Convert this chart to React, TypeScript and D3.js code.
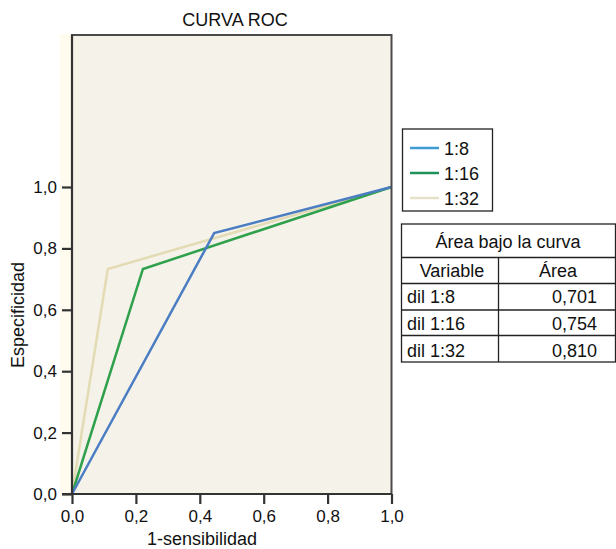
import React, { useEffect, useRef } from "react";
import * as d3 from "d3";

// ROC points (1-sensibilidad, especificidad)
const fpr18 = [0, 0.445, 1];
const tpr18 = [0, 0.85, 1];
const fpr116 = [0, 0.222, 1];
const tpr116 = [0, 0.733, 1];
const fpr132 = [0, 0.112, 1];
const tpr132 = [0, 0.733, 1];

const seriesNames = ["1:8", "1:16", "1:32"];
const lineColors = ["#4a7dc2", "#2fa04c", "#e3dbb4"];
const legendColors = ["#3d9dd2", "#1f9058", "#e7e0c9"];

const ticks = [0, 0.2, 0.4, 0.6, 0.8, 1.0];

const tableVars = ["dil 1:8", "dil 1:16", "dil 1:32"];
const tableAreas = ["0,701", "0,754", "0,810"];

const FONT = "'Liberation Sans', Arial, Helvetica, sans-serif";

export default function App() {
  const svgRef = useRef<SVGSVGElement | null>(null);

  useEffect(() => {
    const W = 616;
    const H = 549;
    const svg = d3.select(svgRef.current).attr("width", W).attr("height", H);
    svg.selectAll("*").remove();

    const left = 72;
    const right = 391.5;
    const bottom = 494;
    const top = 35;

    const x = d3.scaleLinear().domain([0, 1]).range([left, right]);
    const y = d3.scaleLinear().domain([0, 1]).range([bottom, 187]);

    // cream strip + plot background
    svg.append("rect").attr("x", 60).attr("y", top - 1).attr("width", left - 60)
      .attr("height", bottom - top + 4).attr("fill", "#fffcef");
    svg.append("rect").attr("x", left).attr("y", top).attr("width", right - left)
      .attr("height", bottom - top).attr("fill", "#f5f2ea");

    // title
    svg.append("text").attr("x", 235).attr("y", 26).attr("text-anchor", "middle")
      .attr("font-family", FONT).attr("font-size", 18).attr("fill", "#111")
      .text("CURVA ROC");

    // lines
    const line = d3.line<[number, number]>().x((d) => x(d[0])).y((d) => y(d[1]));
    const series: [number[], number[]][] = [
      [fpr132, tpr132],
      [fpr116, tpr116],
      [fpr18, tpr18],
    ];
    const order = [2, 1, 0];
    series.forEach((s, i) => {
      const pts = s[0].map((v, j) => [v, s[1][j]] as [number, number]);
      svg.append("path").attr("d", line(pts)).attr("fill", "none")
        .attr("stroke", lineColors[order[i]]).attr("stroke-width", 2.5)
        .attr("stroke-linejoin", "miter");
    });

    // frame: top and right
    svg.append("path")
      .attr("d", `M${left},${bottom}V${top}H${right}V${bottom}`)
      .attr("fill", "none").attr("stroke", "#4a4a4a").attr("stroke-width", 2);

    // axes
    const xAxis = svg.append("g").attr("transform", `translate(0,${bottom})`)
      .call(d3.axisBottom(x).tickValues(ticks).tickSize(10).tickPadding(6)
        .tickFormat((d) => d3.format(".1f")(d as number).replace(".", ",")));
    const yAxis = svg.append("g").attr("transform", `translate(${left},0)`)
      .call(d3.axisLeft(y).tickValues(ticks).tickSize(10).tickPadding(5)
        .tickFormat((d) => d3.format(".1f")(d as number).replace(".", ",")));
    [xAxis, yAxis].forEach((g) => {
      g.select(".domain").attr("stroke", "#333").attr("stroke-width", 2.2);
      g.selectAll(".tick line").attr("stroke", "#333").attr("stroke-width", 2.2);
      g.selectAll(".tick text").attr("font-family", FONT).attr("font-size", 17)
        .attr("fill", "#111");
    });
    // x-axis extends slightly past the left
    xAxis.select(".domain").attr("d", `M${left - 10},0H${right}`);
    yAxis.select(".domain").attr("d", `M0,${bottom}V${top}`);

    svg.append("text").attr("x", 202).attr("y", 545).attr("text-anchor", "middle")
      .attr("font-family", FONT).attr("font-size", 18).attr("fill", "#111")
      .text("1-sensibilidad");
    svg.append("text").attr("transform", `translate(24,315) rotate(-90)`)
      .attr("text-anchor", "middle").attr("font-family", FONT).attr("font-size", 18)
      .attr("fill", "#111").text("Especificidad");

    // legend
    const lg = svg.append("g");
    lg.append("rect").attr("x", 402.5).attr("y", 129).attr("width", 90).attr("height", 82)
      .attr("fill", "#fff").attr("stroke", "#222").attr("stroke-width", 1.3);
    seriesNames.forEach((n, i) => {
      const cy = 148 + i * 25;
      lg.append("line").attr("x1", 410).attr("x2", 439).attr("y1", cy).attr("y2", cy)
        .attr("stroke", legendColors[i]).attr("stroke-width", 2.5);
      lg.append("text").attr("x", 444).attr("y", cy + 6.5).attr("font-family", FONT)
        .attr("font-size", 18).attr("fill", "#111").text(n);
    });

    // AUC table
    const tb = svg.append("g").attr("font-family", FONT).attr("font-size", 18).attr("fill", "#111");
    const tl = 401.5;
    const tr = 615.5;
    const colX = 498.5;
    const rowLines = [224, 257.5, 283.5, 310, 335.5, 362];
    tb.append("rect").attr("x", tl).attr("y", rowLines[0]).attr("width", tr - tl)
      .attr("height", rowLines[5] - rowLines[0]).attr("fill", "#fff")
      .attr("stroke", "#222").attr("stroke-width", 1.3);
    rowLines.slice(1, 5).forEach((ry) => {
      tb.append("line").attr("x1", tl).attr("x2", tr).attr("y1", ry).attr("y2", ry)
        .attr("stroke", "#222").attr("stroke-width", 1.3);
    });
    tb.append("line").attr("x1", colX).attr("x2", colX).attr("y1", rowLines[1])
      .attr("y2", rowLines[5]).attr("stroke", "#222").attr("stroke-width", 1.3);
    tb.append("text").attr("x", 508).attr("y", 248).attr("text-anchor", "middle")
      .text("Área bajo la curva");
    tb.append("text").attr("x", 452).attr("y", 276.5).attr("text-anchor", "middle")
      .text("Variable");
    tb.append("text").attr("x", 558).attr("y", 276.5).attr("text-anchor", "middle")
      .text("Área");
    tableVars.forEach((v, i) => {
      const by = 303 + i * 27;
      tb.append("text").attr("x", 407).attr("y", by).text(v);
      tb.append("text").attr("x", 597).attr("y", by).attr("text-anchor", "end")
        .text(tableAreas[i]);
    });
  }, []);

  return (
    <svg
      ref={svgRef}
      style={{ position: "absolute", left: 0, top: 0, background: "#fff" }}
    />
  );
}
